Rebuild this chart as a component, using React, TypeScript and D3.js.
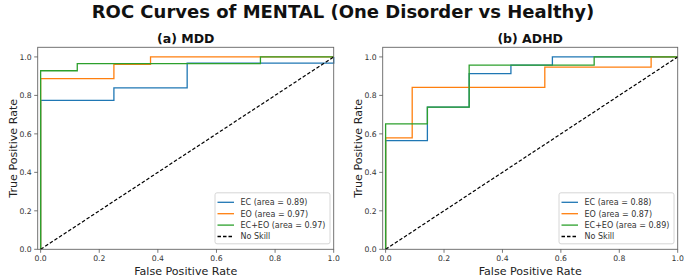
import React from "react";
import * as d3 from "d3";

const W = 685;
const H = 280;

const titleText = "ROC Curves of MENTAL (One Disorder vs Healthy)";
const panelTitles = ["(a) MDD", "(b) ADHD"];
const seriesNames = ["EC", "EO", "EC+EO"];
const seriesColors = ["#1f77b4", "#ff7f0e", "#2ca02c"];
const ticks = [0, 0.2, 0.4, 0.6, 0.8, 1.0];

// Panel (a) MDD
const mddAreas = ["0.89", "0.97", "0.97"];
const mddEcFpr = [0, 0, 0.25, 0.25, 0.5, 0.5, 1, 1];
const mddEcTpr = [0, 0.774, 0.774, 0.839, 0.839, 0.968, 0.968, 1];
const mddEoFpr = [0, 0, 0.25, 0.25, 0.375, 0.375, 1];
const mddEoTpr = [0, 0.887, 0.887, 0.962, 0.962, 1, 1];
const mddBothFpr = [0, 0, 0.125, 0.125, 0.75, 0.75, 1];
const mddBothTpr = [0, 0.928, 0.928, 0.965, 0.965, 1, 1];

// Panel (b) ADHD
const adhdAreas = ["0.88", "0.87", "0.89"];
const adhdEcFpr = [0, 0, 0.143, 0.143, 0.286, 0.286, 0.429, 0.429, 0.571, 0.571, 1];
const adhdEcTpr = [0, 0.565, 0.565, 0.739, 0.739, 0.913, 0.913, 0.957, 0.957, 1, 1];
const adhdEoFpr = [0, 0, 0.091, 0.091, 0.545, 0.545, 0.909, 0.909, 1];
const adhdEoTpr = [0, 0.579, 0.579, 0.842, 0.842, 0.947, 0.947, 1, 1];
const adhdBothFpr = [0, 0, 0.143, 0.143, 0.286, 0.286, 0.714, 0.714, 1];
const adhdBothTpr = [0, 0.652, 0.652, 0.739, 0.739, 0.957, 0.957, 1, 1];

const noSkill = [0, 1];

const FONT = "DejaVu Sans, sans-serif";

type Curve = { fpr: number[]; tpr: number[] };

function Panel({
  left,
  right,
  top,
  bottom,
  title,
  curves,
  areas,
}: {
  left: number;
  right: number;
  top: number;
  bottom: number;
  title: string;
  curves: Curve[];
  areas: string[];
}) {
  const x = d3.scaleLinear().domain([-0.01, 1.0]).range([left, right]);
  const y = d3.scaleLinear().domain([0, 1.05]).range([bottom, top]);
  const line = d3
    .line<[number, number]>()
    .x((d) => x(d[0]))
    .y((d) => y(d[1]));
  const cx = (left + right) / 2;
  const cy = (top + bottom) / 2;

  const legW = 115;
  const legH = 51;
  const legX = right - 3.7 - legW;
  const legY = bottom - 5.5 - legH;
  const rowH = 11.4;
  const legendItems = [
    ...seriesNames.map((n, i) => ({
      label: `${n} (area = ${areas[i]})`,
      color: seriesColors[i],
      dash: undefined as string | undefined,
    })),
    { label: "No Skill", color: "#000", dash: "3.5,2" },
  ];

  return (
    <g>
      <text
        x={cx}
        y={top - 4.5}
        textAnchor="middle"
        fontFamily={FONT}
        fontWeight="bold"
        fontSize={12.5}
        fill="#111"
      >
        {title}
      </text>
      {curves.map((c, i) => (
        <path
          key={i}
          d={line(c.fpr.map((f, j) => [f, c.tpr[j]] as [number, number])) || ""}
          fill="none"
          stroke={seriesColors[i]}
          strokeWidth={1.3}
        />
      ))}
      <path
        d={line(noSkill.map((v) => [v, v] as [number, number])) || ""}
        fill="none"
        stroke="#000"
        strokeWidth={1.2}
        strokeDasharray="3.5,2"
      />
      <rect
        x={left}
        y={top}
        width={right - left}
        height={bottom - top}
        fill="none"
        stroke="#666"
        strokeWidth={0.9}
      />
      {ticks.map((t) => (
        <g key={"x" + t}>
          <line x1={x(t)} x2={x(t)} y1={bottom} y2={bottom + 3.5} stroke="#555" strokeWidth={0.8} />
          <text
            x={x(t)}
            y={bottom + 12}
            textAnchor="middle"
            fontFamily={FONT}
            fontSize={7.7}
            fill="#333"
          >
            {t.toFixed(1)}
          </text>
        </g>
      ))}
      {ticks.map((t) => (
        <g key={"y" + t}>
          <line x1={left - 3.5} x2={left} y1={y(t)} y2={y(t)} stroke="#555" strokeWidth={0.8} />
          <text
            x={left - 6}
            y={y(t) + 2.8}
            textAnchor="end"
            fontFamily={FONT}
            fontSize={7.7}
            fill="#333"
          >
            {t.toFixed(1)}
          </text>
        </g>
      ))}
      <text
        x={cx}
        y={bottom + 25.5}
        textAnchor="middle"
        fontFamily={FONT}
        fontSize={11.1}
        fill="#222"
      >
        False Positive Rate
      </text>
      <text
        transform={`translate(${left - 21},${cy}) rotate(-90)`}
        textAnchor="middle"
        fontFamily={FONT}
        fontSize={11.1}
        fill="#222"
      >
        True Positive Rate
      </text>
      <rect
        x={legX}
        y={legY}
        width={legW}
        height={legH}
        rx={2}
        fill="#fff"
        fillOpacity={0.85}
        stroke="#ccc"
        strokeWidth={0.8}
      />
      {legendItems.map((it, i) => {
        const ly = legY + 9.5 + i * rowH;
        return (
          <g key={i}>
            <line
              x1={legX + 2.5}
              x2={legX + 19}
              y1={ly}
              y2={ly}
              stroke={it.color}
              strokeWidth={1.3}
              strokeDasharray={it.dash}
            />
            <text
              x={legX + 25.5}
              y={ly + 2.8}
              fontFamily={FONT}
              fontSize={8}
              fill="#333"
            >
              {it.label}
            </text>
          </g>
        );
      })}
    </g>
  );
}

export default function App() {
  const top = 47.3;
  const bottom = 249.3;
  return (
    <svg width={W} height={H} style={{ display: "block", position: "absolute", left: 0, top: 0 }}>
      <rect width={W} height={H} fill="#fff" />
      <text
        x={343}
        y={18}
        textAnchor="middle"
        fontFamily={FONT}
        fontWeight="bold"
        fontSize={18}
        fill="#111"
      >
        {titleText}
      </text>
      <Panel
        left={37.7}
        right={333.7}
        top={top}
        bottom={bottom}
        title={panelTitles[0]}
        areas={mddAreas}
        curves={[
          { fpr: mddEcFpr, tpr: mddEcTpr },
          { fpr: mddEoFpr, tpr: mddEoTpr },
          { fpr: mddBothFpr, tpr: mddBothTpr },
        ]}
      />
      <Panel
        left={382.7}
        right={677.7}
        top={top}
        bottom={bottom}
        title={panelTitles[1]}
        areas={adhdAreas}
        curves={[
          { fpr: adhdEcFpr, tpr: adhdEcTpr },
          { fpr: adhdEoFpr, tpr: adhdEoTpr },
          { fpr: adhdBothFpr, tpr: adhdBothTpr },
        ]}
      />
    </svg>
  );
}
